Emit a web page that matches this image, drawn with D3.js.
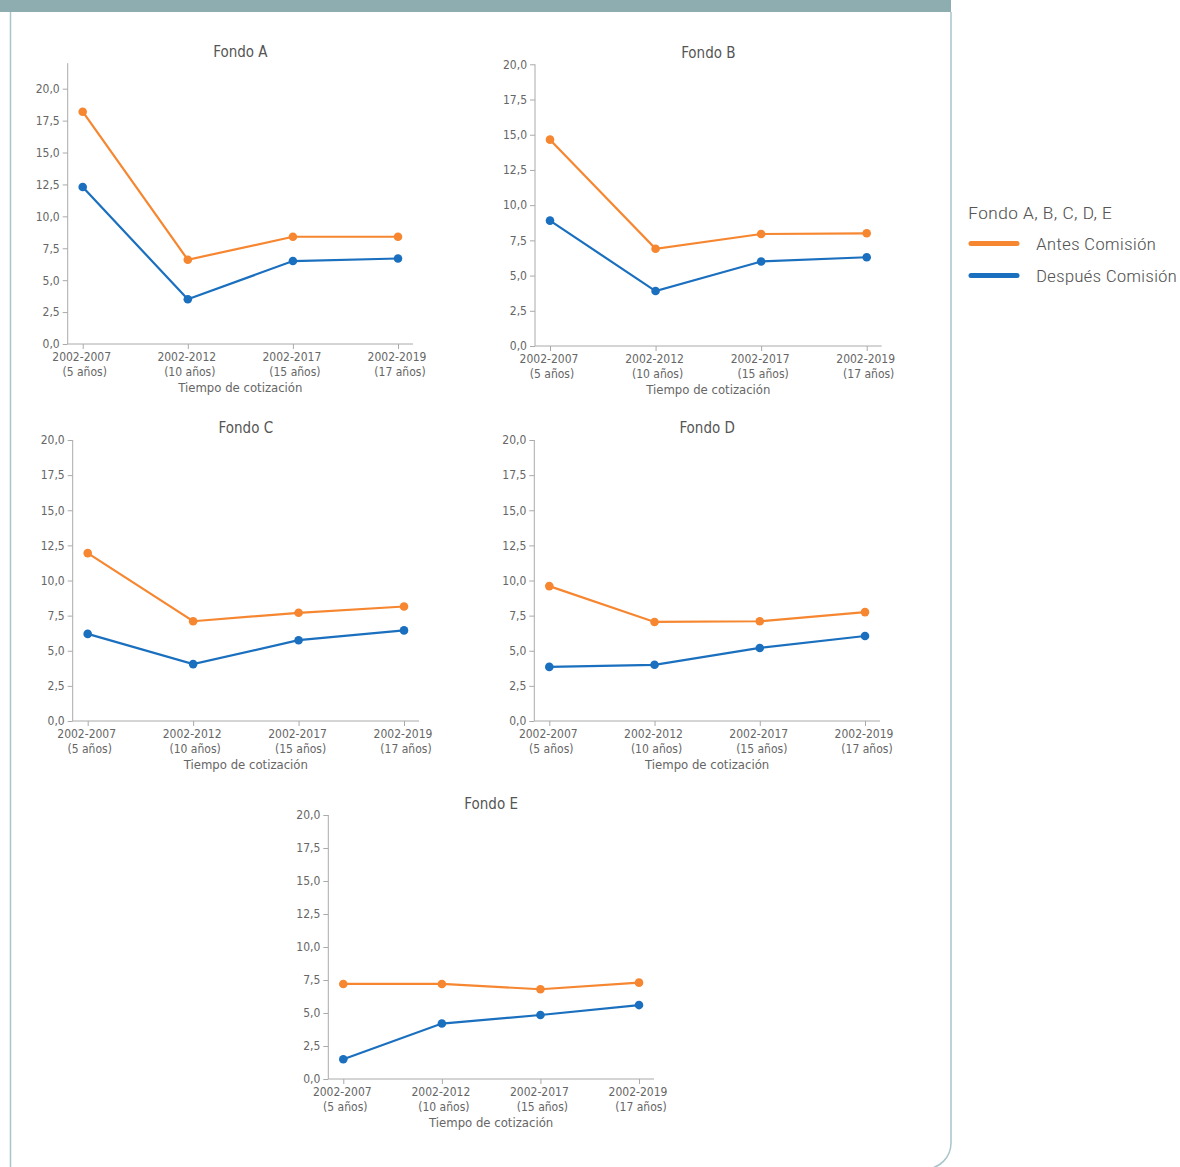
<!DOCTYPE html>
<html>
<head>
<meta charset="utf-8">
<script src="https://cdn.jsdelivr.net/npm/d3@7"></script>
<style>
  html, body { margin: 0; padding: 0; background: #ffffff; }
  svg { display: block; }
</style>
</head>
<body>
<svg id="chart" width="1180" height="1167"></svg>
<script>
// ---------- DATA ----------
const categories = ["2002-2007", "2002-2012", "2002-2017", "2002-2019"];
const categorySub = ["(5 años)", "(10 años)", "(15 años)", "(17 años)"];
const yTicks = [0, 2.5, 5, 7.5, 10, 12.5, 15, 17.5, 20];
const fundNames = ["Fondo A", "Fondo B", "Fondo C", "Fondo D", "Fondo E"];
const seriesNames = ["Antes Comisión", "Después Comisión"];
const legendTitle = "Fondo A, B, C, D, E";
const xAxisTitle = "Tiempo de cotización";

const antesA = [18.2, 6.6, 8.4, 8.4];
const despuesA = [12.3, 3.5, 6.5, 6.7];
const antesB = [14.65, 6.9, 7.95, 8.0];
const despuesB = [8.9, 3.9, 6.0, 6.3];
const antesC = [11.95, 7.1, 7.7, 8.15];
const despuesC = [6.2, 4.05, 5.75, 6.45];
const antesD = [9.6, 7.05, 7.1, 7.75];
const despuesD = [3.85, 4.0, 5.2, 6.05];
const antesE = [7.2, 7.2, 6.8, 7.3];
const despuesE = [1.5, 4.2, 4.85, 5.6];

// ---------- LAYOUT ----------
const panels = [
  { name: fundNames[0], antes: antesA, despues: despuesA, x0: 67.7, x1: 413, y0: 344, y20: 88.7, yMax: 22, titleY: 52 },
  { name: fundNames[1], antes: antesB, despues: despuesB, x0: 535, x1: 881.7, y0: 346, y20: 64.3, yMax: 20, titleY: 53 },
  { name: fundNames[2], antes: antesC, despues: despuesC, x0: 72.7, x1: 419, y0: 721, y20: 440, yMax: 20, titleY: 428 },
  { name: fundNames[3], antes: antesD, despues: despuesD, x0: 534.3, x1: 880, y0: 721, y20: 440, yMax: 20, titleY: 428 },
  { name: fundNames[4], antes: antesE, despues: despuesE, x0: 328.3, x1: 654, y0: 1079, y20: 815, yMax: 20, titleY: 804 }
];

const colors = { antes: "#f68630", despues: "#1a6fbe" };
const axisColor = "#aaaaaa";
const textColor = "#666666";
const font = "'DejaVu Sans Condensed', 'DejaVu Sans', Verdana, sans-serif";

const locale = d3.formatLocale({ decimal: ",", thousands: ".", grouping: [3], currency: ["", "€"] });
const fmt = locale.format(".1f");

const svg = d3.select("#chart");

// frame
svg.append("rect").attr("x", 0).attr("y", 0).attr("width", 951).attr("height", 12).attr("fill", "#8eadb1");
const r = 26;
svg.append("path")
  .attr("d", `M10.5,12 L10.5,1169 L${951 - r},1169 A${r},${r} 0 0 0 951,${1169 - r} L951,12`)
  .attr("fill", "none").attr("stroke", "#a8c5cb").attr("stroke-width", 1.5);

panels.forEach(p => {
  const g = svg.append("g");
  const y = d3.scaleLinear().domain([0, 20]).range([p.y0, p.y20]);
  const yTopPx = y(p.yMax);
  const x = d3.scalePoint().domain(categories).range([p.x0 + 15, p.x1 - 15]);

  // y axis
  const yAxis = d3.axisLeft(y).tickValues(yTicks).tickFormat(fmt).tickSize(5).tickPadding(3);
  const ya = g.append("g").attr("transform", `translate(${p.x0},0)`).call(yAxis);
  ya.select(".domain").remove();
  ya.selectAll(".tick line").attr("stroke", axisColor);
  ya.selectAll(".tick text").attr("fill", textColor).style("font-family", font).style("font-size", "12px");
  g.append("line").attr("x1", p.x0).attr("x2", p.x0).attr("y1", yTopPx).attr("y2", p.y0)
    .attr("stroke", axisColor).attr("stroke-width", 1);

  // x axis
  const xAxis = d3.axisBottom(x).tickSize(5).tickFormat("");
  const xa = g.append("g").attr("transform", `translate(0,${p.y0})`).call(xAxis);
  xa.select(".domain").remove();
  xa.selectAll(".tick line").attr("stroke", axisColor);
  g.append("line").attr("x1", p.x0).attr("x2", p.x1).attr("y1", p.y0).attr("y2", p.y0)
    .attr("stroke", axisColor).attr("stroke-width", 1);

  categories.forEach((c, i) => {
    const t = g.append("text").attr("x", x(c)).attr("y", p.y0 + 17)
      .attr("text-anchor", "middle").attr("fill", textColor)
      .style("font-family", font).style("font-size", "12px");
    t.append("tspan").attr("x", x(c) - 1).text(c);
    t.append("tspan").attr("x", x(c) + 2).attr("dy", 15).text(categorySub[i]);
  });

  g.append("text").attr("x", (p.x0 + p.x1) / 2).attr("y", p.y0 + 48)
    .attr("text-anchor", "middle").attr("fill", textColor)
    .style("font-family", font).style("font-size", "13px").text(xAxisTitle);

  g.append("text").attr("x", (p.x0 + p.x1) / 2).attr("y", p.titleY + 5)
    .attr("text-anchor", "middle").attr("fill", "#555555")
    .style("font-family", font).style("font-size", "15px").text(p.name);

  const line = d3.line().x((d, i) => x(categories[i])).y(d => y(d));
  [["despues", p.despues], ["antes", p.antes]].forEach(([k, vals]) => {
    g.append("path").datum(vals).attr("d", line).attr("fill", "none")
      .attr("stroke", colors[k]).attr("stroke-width", 2.2);
    g.selectAll(null).data(vals).enter().append("circle")
      .attr("cx", (d, i) => x(categories[i])).attr("cy", d => y(d)).attr("r", 4.3)
      .attr("fill", colors[k]);
  });
});

// legend
const lfont = "'Roboto Condensed', 'Liberation Sans Narrow', Roboto, sans-serif";
const lg = svg.append("g");
lg.append("text").attr("x", 968).attr("y", 219).attr("fill", "#555555")
  .style("font-family", lfont).style("font-size", "17px").style("font-weight", 300)
  .attr("textLength", 144).attr("lengthAdjust", "spacingAndGlyphs").text(legendTitle);
const legendItems = [{ k: "antes", name: seriesNames[0], yy: 243.5, w: 120 }, { k: "despues", name: seriesNames[1], yy: 275.5, w: 141 }];
legendItems.forEach(it => {
  lg.append("line").attr("x1", 971).attr("x2", 1017).attr("y1", it.yy).attr("y2", it.yy)
    .attr("stroke", colors[it.k]).attr("stroke-width", 5).attr("stroke-linecap", "round");
  lg.append("text").attr("x", 1036).attr("y", it.yy + 6).attr("fill", "#555555")
    .style("font-family", lfont).style("font-size", "17px").style("font-weight", 300)
    .attr("textLength", it.w).attr("lengthAdjust", "spacingAndGlyphs").text(it.name);
});
</script>
</body>
</html>
